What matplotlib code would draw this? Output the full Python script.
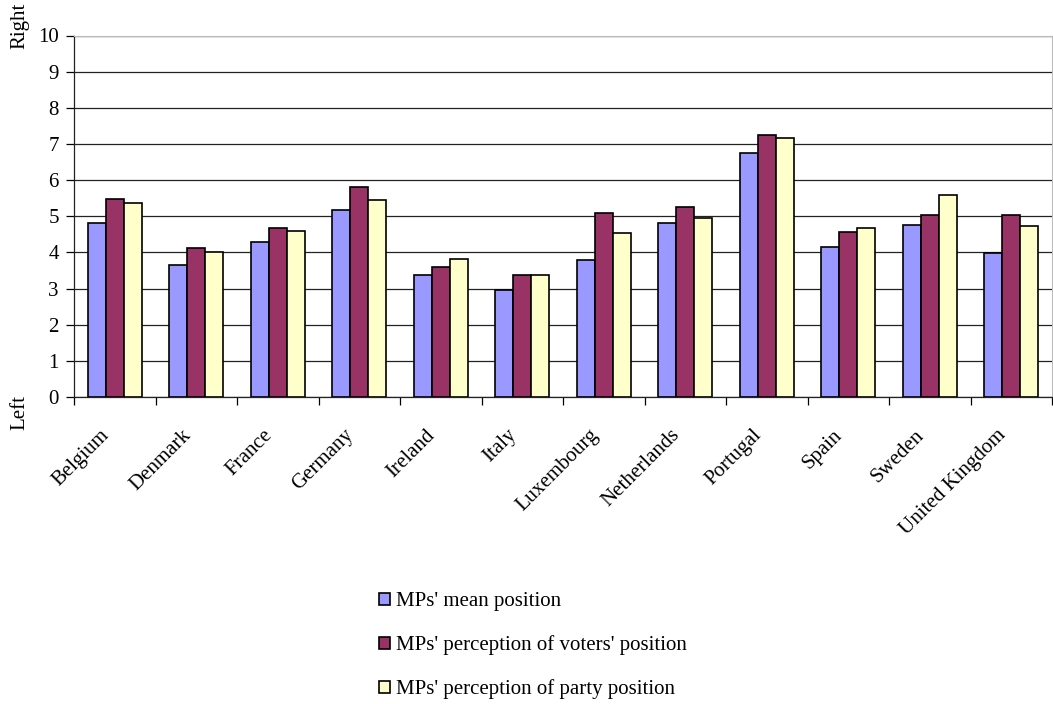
import numpy as np
import matplotlib
matplotlib.use("Agg")
import matplotlib.pyplot as plt
import matplotlib.transforms as mtransforms
from matplotlib.ticker import FixedLocator

plt.rcParams["font.family"] = ["Liberation Serif", "DejaVu Serif"]

countries = ["Belgium", "Denmark", "France", "Germany", "Ireland", "Italy",
             "Luxembourg", "Netherlands", "Portugal", "Spain", "Sweden",
             "United Kingdom"]
mean_pos = [4.80, 3.65, 4.30, 5.17, 3.37, 2.95, 3.78, 4.81, 6.75, 4.16, 4.75, 3.97]
voters_pos = [5.49, 4.11, 4.67, 5.82, 3.60, 3.37, 5.08, 5.26, 7.26, 4.57, 5.03, 5.03]
party_pos = [5.36, 4.02, 4.58, 5.44, 3.83, 3.37, 4.53, 4.94, 7.16, 4.68, 5.59, 4.72]

series = [
    ("MPs' mean position", mean_pos, "#9999FF"),
    ("MPs' perception of voters' position", voters_pos, "#993366"),
    ("MPs' perception of party position", party_pos, "#FFFFCC"),
]

FS = 15

fig = plt.figure(figsize=(10.53, 7.04), dpi=100)
ax = fig.add_axes([74 / 1053, 1 - 397 / 704, (1052 - 74) / 1053, (397 - 35.5) / 704])

x = np.arange(len(countries))
width = 1 / 4.5
for i, (label, vals, color) in enumerate(series):
    ax.bar(x + (i - 1) * width, vals, width, color=color, edgecolor="black",
           linewidth=1.2, label=label, zorder=3)

ax.set_xlim(-0.5, len(countries) - 0.5)
ax.set_ylim(0, 10)
ax.set_yticks(range(0, 11))
ax.yaxis.grid(True, color="#222222", linewidth=0.9, zorder=0)
ax.tick_params(axis="y", direction="out", length=6, width=0.9, labelsize=FS, pad=5)

ax.set_xticks(x)
ax.set_xticklabels(countries, rotation=45, ha="right", va="top",
                   rotation_mode="anchor", fontsize=FS)
ax.tick_params(axis="x", which="major", length=0, pad=12)
ax.xaxis.set_minor_locator(FixedLocator(np.arange(-0.5, len(countries), 1)))
ax.tick_params(axis="x", which="minor", direction="out", length=6, width=0.9)

# nudge the slanted country names down and to the left
shift = mtransforms.ScaledTranslation(-0.15, -0.12, fig.dpi_scale_trans)
for lbl in ax.get_xticklabels():
    lbl.set_transform(lbl.get_transform() + shift)

for side in ["top", "right"]:
    ax.spines[side].set_color("#BBBBBB")
for side in ["left", "bottom"]:
    ax.spines[side].set_color("#222222")
    ax.spines[side].set_linewidth(0.9)

fig.text(20 / 1053, 1 - 26 / 704, "Right", rotation=90, ha="center", va="center", fontsize=FS)
fig.text(20 / 1053, 1 - 413 / 704, "Left", rotation=90, ha="center", va="center", fontsize=FS)

fig.legend(loc="upper left", bbox_to_anchor=(371 / 1053, 1 - 584 / 704),
           frameon=False, fontsize=FS, labelspacing=1.15, handlelength=0.5,
           handleheight=0.5, handletextpad=0.3, borderaxespad=0)

fig.savefig("out.png", dpi=100, facecolor="white")
